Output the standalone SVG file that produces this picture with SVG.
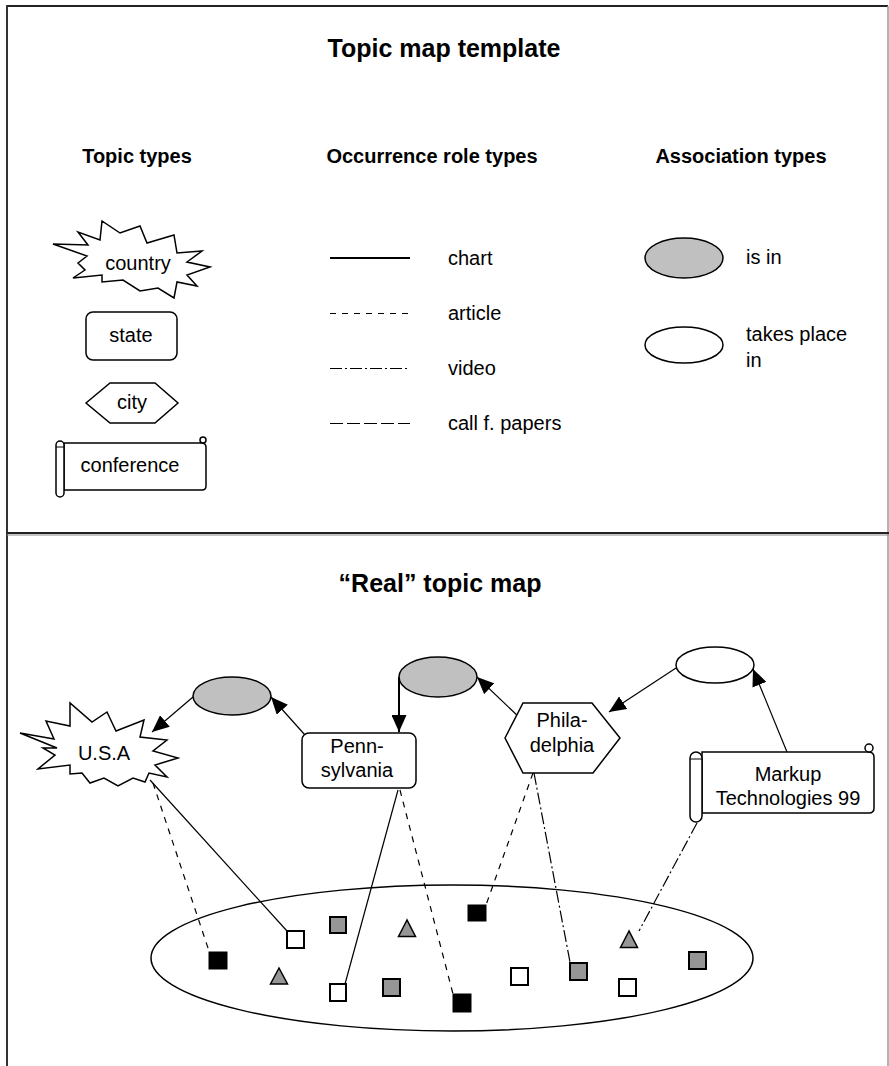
<svg xmlns="http://www.w3.org/2000/svg" width="889" height="1066" viewBox="0 0 889 1066">
<style>
.t{font-family:"Liberation Sans",Arial,sans-serif;font-size:20px;fill:#000}
.c{text-anchor:middle}
.h{font-weight:bold}
.s{fill:#fff;stroke:#000;stroke-width:1.5}
.g{fill:#c0c0c0;stroke:#000;stroke-width:1.5}
.w{fill:#fff;stroke:#000;stroke-width:1.5}
.ln{fill:none;stroke:#000;stroke-width:1.2}
.lg{fill:none;stroke:#000;stroke-width:1}
.art{stroke-dasharray:6 6}
.vid{stroke-dasharray:12 3 2 3}
.cfp{stroke-dasharray:13 4}
.sqw{fill:#fff;stroke:#000;stroke-width:2}
.sqg{fill:#969696;stroke:#000;stroke-width:2}
.sqb{fill:#000;stroke:#000;stroke-width:1}
</style>
<defs>
<marker id="ah" markerUnits="userSpaceOnUse" markerWidth="17" markerHeight="15" refX="17" refY="7.5" orient="auto">
<path d="M0,0 L17,7.5 L0,15 Z" fill="#000"/>
</marker>
</defs>
<rect width="889" height="1066" fill="#fff"/>
<g id="frame">
<line x1="7" y1="6" x2="888" y2="6" stroke="#222" stroke-width="2"/>
<line x1="7" y1="5" x2="7" y2="1066" stroke="#333" stroke-width="2"/>
<line x1="888" y1="6" x2="888" y2="1066" stroke="#999" stroke-width="1.5"/>
<line x1="7" y1="533" x2="889" y2="533" stroke="#222" stroke-width="2"/>
<line x1="7" y1="535" x2="889" y2="535" stroke="#888" stroke-width="1"/>
</g>
<g id="titles">
<text class="t c h" x="444" y="57" style="font-size:25px">Topic map template</text>
<text class="t c h" x="137" y="163">Topic types</text>
<text class="t c h" x="432" y="163">Occurrence role types</text>
<text class="t c h" x="741" y="163">Association types</text>
<text class="t c h" x="440" y="592" style="font-size:25px">“Real” topic map</text>
</g>
<g id="legend-country">
<polygon class="s" points="53,244 88,245 78,232 100,240 102,221 120,233 140,226 147,243 174,235 177,253 202,251 187,262 210,267 187,275 197,286 177,282 174,298 158,288 140,291 123,280 102,282 102,275 73,278 85,270 78,263 87,256"/>
<text class="t c" x="138" y="270">country</text>
</g>
<g id="legend-state">
<rect class="s" x="86" y="312" width="91" height="48" rx="7"/>
<text class="t c" x="131" y="342">state</text>
</g>
<g id="legend-city">
<polygon class="s" points="86,403 110,383 155,383 178,403 155,423 110,423"/>
<text class="t c" x="132" y="409">city</text>
</g>
<g id="legend-conference">
<path class="s" d="M64,443 L201,443 Q206,443 206,447 L206,486 Q206,490 202,490 L64,490 Z"/>
<rect class="s" x="56" y="441" width="8" height="56" rx="4"/>
<line x1="56" y1="447" x2="64" y2="447" stroke="#000" stroke-width="1"/>
<circle class="s" cx="203" cy="440" r="3"/>
<text class="t c" x="130" y="472">conference</text>
</g>
<g id="legend-occurrences">
<line x1="330" y1="258" x2="410" y2="258" stroke="#000" stroke-width="2"/>
<line class="lg art" x1="330" y1="313.5" x2="410" y2="313.5"/>
<line class="lg vid" x1="330" y1="368.5" x2="410" y2="368.5"/>
<line class="lg cfp" x1="330" y1="423.5" x2="410" y2="423.5"/>
<text class="t" x="448" y="265">chart</text>
<text class="t" x="448" y="320">article</text>
<text class="t" x="448" y="375">video</text>
<text class="t" x="448" y="430">call f. papers</text>
</g>
<g id="legend-associations">
<ellipse class="g" cx="684" cy="258" rx="39" ry="20"/>
<text class="t" x="746" y="264">is in</text>
<ellipse class="w" cx="684" cy="345" rx="39" ry="18"/>
<text class="t" x="746" y="341">takes place</text>
<text class="t" x="746" y="367">in</text>
</g>
<g id="connectors">
<line class="ln" x1="193" y1="697" x2="152" y2="732" marker-end="url(#ah)"/>
<line class="ln" x1="305" y1="735" x2="271" y2="697" marker-end="url(#ah)"/>
<line x1="399" y1="677" x2="399" y2="732" stroke="#000" stroke-width="2" marker-end="url(#ah)"/>
<line class="ln" x1="520" y1="718" x2="477" y2="677" marker-end="url(#ah)"/>
<line class="ln" x1="676" y1="668" x2="609" y2="712" marker-end="url(#ah)"/>
<line class="ln" x1="787" y1="752" x2="753" y2="669" marker-end="url(#ah)"/>
<line class="ln art" x1="153" y1="783" x2="209" y2="951"/>
<line class="ln" x1="150" y1="780" x2="287" y2="931"/>
<line class="ln" x1="398" y1="790" x2="345" y2="984"/>
<line class="ln art" x1="400" y1="790" x2="453" y2="994"/>
<line class="ln art" x1="533" y1="773" x2="486" y2="905"/>
<line class="ln vid" x1="534" y1="773" x2="570" y2="962"/>
<line class="ln vid" x1="697" y1="823" x2="639" y2="931"/>
</g>
<g id="usa">
<polygon class="s" points="20,733 54,739 46,721 70,726 70,703 92,722 107,712 116,731 144,720 140,737 167,740 153,751 178,758 155,765 167,777 149,773 145,782 133,778 118,786 104,778 90,783 82,773 70,774 70,765 38,769 55,755 43,748 57,748"/>
<text class="t c" x="104" y="760">U.S.A</text>
</g>
<g id="isin-1">
<ellipse class="g" cx="232" cy="696" rx="39" ry="19"/>
</g>
<g id="pennsylvania">
<rect class="s" x="302" y="733" width="114" height="55" rx="7"/>
<text class="t c" x="357" y="753">Penn-</text>
<text class="t c" x="357" y="777">sylvania</text>
</g>
<g id="isin-2">
<ellipse class="g" cx="438" cy="677" rx="39" ry="20"/>
</g>
<g id="philadelphia">
<polygon class="s" points="505,738 523,703 592,703 620,738 593,773 523,773"/>
<text class="t c" x="562" y="727">Phila-</text>
<text class="t c" x="562" y="752">delphia</text>
</g>
<g id="takesplace">
<ellipse class="w" cx="715" cy="665" rx="39" ry="18"/>
</g>
<g id="markup">
<path class="s" d="M702,752 L868,752 Q874,752 874,757 L874,808 Q874,813 869,813 L702,813 Z"/>
<rect class="s" x="690" y="752" width="12" height="70" rx="6"/>
<line x1="690" y1="759" x2="702" y2="759" stroke="#000" stroke-width="1"/>
<circle class="s" cx="869" cy="748" r="4"/>
<text class="t c" x="788" y="781">Markup</text>
<text class="t c" x="788" y="805">Technologies 99</text>
</g>
<g id="occurrences">
<ellipse cx="452" cy="958" rx="301" ry="73" fill="none" stroke="#000" stroke-width="1.5"/>
<rect class="sqb" x="209" y="952" width="18" height="17"/>
<rect class="sqw" x="287" y="931" width="17" height="17"/>
<rect class="sqg" x="330" y="917" width="16" height="16"/>
<polygon class="sqg" points="279,968 270.5,984 287.5,984" style="stroke-width:1.5"/>
<rect class="sqw" x="330" y="984" width="16" height="17"/>
<polygon class="sqg" points="407,920 398.5,936.5 415.5,936.5" style="stroke-width:1.5"/>
<rect class="sqg" x="383" y="979" width="17" height="17"/>
<rect class="sqb" x="468" y="905" width="18" height="16"/>
<rect class="sqb" x="453" y="994" width="18" height="18"/>
<rect class="sqw" x="511" y="968" width="17" height="17"/>
<rect class="sqg" x="570" y="963" width="17" height="17"/>
<polygon class="sqg" points="629,931 620.5,947.5 637.5,947.5" style="stroke-width:1.5"/>
<rect class="sqw" x="619" y="979" width="17" height="17"/>
<rect class="sqg" x="689" y="952" width="17" height="17"/>
</g>
</svg>
